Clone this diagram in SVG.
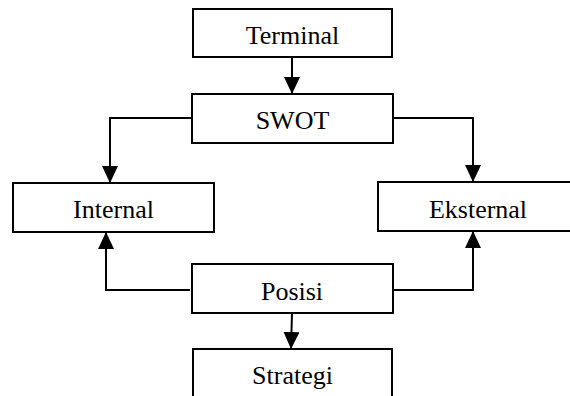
<svg xmlns="http://www.w3.org/2000/svg" width="570" height="396" viewBox="0 0 570 396">
<defs>
<marker id="ah" markerUnits="userSpaceOnUse" markerWidth="18" markerHeight="16" refX="17" refY="8" orient="auto">
<path d="M0,0 L17,8 L0,16 z" fill="#000"/>
</marker>
<style>
.box{fill:#fff;stroke:#000;stroke-width:2}
.lbl{font-family:"Liberation Serif","Times New Roman",serif;font-size:26px;fill:#000;text-anchor:middle}
.c{fill:none;stroke:#000;stroke-width:2;marker-end:url(#ah)}
</style>
</defs>
<rect width="570" height="396" fill="#fff"/>
<g id="connectors">
<path class="c" d="M292,57 L292,94"/>
<path class="c" d="M192,118 L110,118 L110,183"/>
<path class="c" d="M393,118 L473,118 L473,182"/>
<path class="c" d="M190,290 L106,290 L106,232"/>
<path class="c" d="M393,290 L473,290 L473,231"/>
<path class="c" d="M292,313 L291,349"/>
</g>
<g id="terminal"><rect class="box" x="193" y="9" width="199" height="48"/><text class="lbl" x="292.5" y="44">Terminal</text></g>
<g id="swot"><rect class="box" x="192" y="94" width="201" height="49"/><text class="lbl" x="292.5" y="129">SWOT</text></g>
<g id="internal"><rect class="box" x="13" y="183" width="201" height="49"/><text class="lbl" x="113.5" y="218">Internal</text></g>
<g id="eksternal"><rect class="box" x="378" y="182" width="200" height="49"/><text class="lbl" x="478" y="218">Eksternal</text></g>
<g id="posisi"><rect class="box" x="192" y="264" width="201" height="49"/><text class="lbl" x="292" y="300">Posisi</text></g>
<g id="strategi"><rect class="box" x="193" y="349" width="199" height="60"/><text class="lbl" x="292.5" y="384">Strategi</text></g>
</svg>
